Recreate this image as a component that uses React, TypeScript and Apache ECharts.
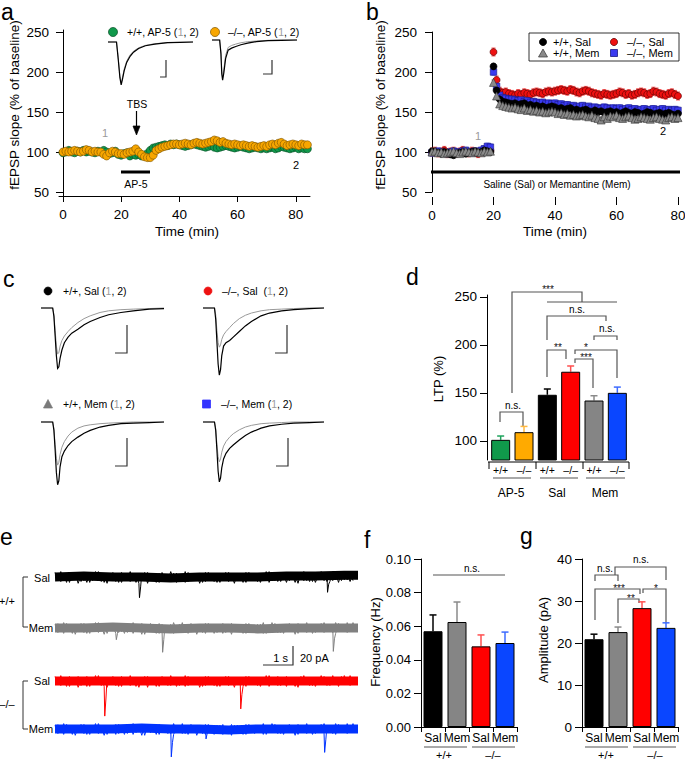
import React, { useEffect, useRef } from "react";
import * as echarts from "echarts";

const FONT = "'Liberation Sans', Arial, Helvetica, sans-serif";

// ---------------- Panel a : AP-5 time course ----------------
const timeA: number[] = Array.from({ length: 85 }, (_, i) => i);
const aWTAP5 = [99,100,102,100,99,101,100,102,100,101, 100,99,101,100,102,100,98,99,101,97, 96,98,99,95,97,96,97,95,96,98, 102,105,106,107,108,109,108,110,109,110, 109,108,107,108,109,110,109,108,107,106, 107,108,106,105,106,107,108,107,106,105, 106,107,106,105,104,105,106,105,104,105, 104,105,106,104,105,107,106,105,104,105, 106,104,105,104,104];
const aKOAP5 = [100,101,100,101,102,101,100,101,103,102, 100,101,100,100,97,95,99,101,100,98, 98,97,99,100,101,104,100,97,94,93, 93,96,102,104,106,107,108,109,110,110, 109,110,111,110,109,111,112,111,110,111, 112,113,115,114,112,113,111,110,109,110, 109,108,109,108,107,108,107,106,107,108, 107,109,110,109,111,112,110,108,109,110, 109,108,110,109,109];
const aTicks = [0, 20, 40, 60, 80];
const slopeTicks = [50, 100, 150, 200, 250];

// ---------------- Panel b : Saline / Memantine ----------------
const timeB: number[] = Array.from({ length: 81 }, (_, i) => i);
const bWTSal = [101,100,99,98,100,99,97,96,98,99,100,98,99,100,101,99,100,102,101,100,
207,177,166,163,162,161,160,161,159,160,161,158,159,157,158,156,157,155,156,157,
156,154,155,153,154,155,152,153,151,152,153,151,150,152,150,151,149,150,151,149,
150,148,149,151,149,148,150,149,147,148,150,149,147,148,149,147,148,149,147,146,148];
const bKOSal = [100,101,99,100,102,98,100,101,99,100,102,100,99,101,100,98,100,101,103,102,
225,190,176,174,175,173,172,171,173,172,174,173,172,174,175,174,173,175,176,175,
176,177,178,177,176,178,177,175,174,176,177,176,174,173,172,171,173,172,171,172,
173,175,174,172,173,171,172,174,175,174,172,173,176,175,173,172,171,173,174,172,170];
const bWTMem = [100,101,99,100,98,99,100,101,99,98,100,101,100,99,101,100,99,101,100,101,
187,170,160,158,157,156,155,156,154,153,155,152,153,151,152,150,151,149,150,151,
150,148,149,147,148,146,147,145,146,147,145,144,146,143,142,140,144,142,145,144,
146,143,142,144,145,143,141,142,144,143,142,141,143,144,142,141,140,143,144,142,143];
const bKOMem = [99,100,101,100,99,98,100,101,100,99,101,102,100,99,101,100,102,104,107,106,
200,182,171,168,167,166,166,165,164,165,163,164,162,163,162,161,162,160,161,160,
161,159,160,158,159,157,158,156,157,158,156,157,155,156,155,154,156,155,154,155,
154,155,153,154,155,153,154,152,153,154,152,153,154,152,153,154,152,153,152,153,152];
const semWTSal = 3;
const semKOSal = 5;
const semWTMem = 3;
const semKOMem = 4;

// ---------------- Panel c : fEPSP traces (mV, 1 = before, 2 = after) ----------------
const tTrace = [0, 9.5, 10.5, 11.5, 12.5, 13.5, 14.5, 15.5, 17, 19, 22, 25, 30, 35, 40, 48, 55, 65, 75, 88, 100];
const cWTSal1 = [0,0,-0.12,-0.4,-0.68,-0.82,-0.8,-0.68,-0.58,-0.5,-0.42,-0.35,-0.26,-0.19,-0.14,-0.08,-0.05,-0.03,-0.02,-0.01,0];
const cWTSal2 = [0,0,-0.15,-0.5,-0.85,-1.08,-1.05,-0.9,-0.75,-0.62,-0.52,-0.45,-0.38,-0.3,-0.24,-0.17,-0.12,-0.08,-0.05,-0.02,-0.01];
const cKOSal1 = [0,0,-0.12,-0.4,-0.62,-0.7,-0.66,-0.56,-0.48,-0.42,-0.35,-0.28,-0.19,-0.13,-0.09,-0.05,-0.03,-0.02,-0.01,0,0];
const cKOSal2 = [0,0,-0.2,-0.6,-1.0,-1.2,-1.1,-0.85,-0.68,-0.62,-0.58,-0.52,-0.42,-0.32,-0.24,-0.14,-0.09,-0.05,-0.03,-0.01,0];
const cWTMem1 = [0,0,-0.12,-0.4,-0.65,-0.77,-0.72,-0.58,-0.45,-0.35,-0.25,-0.18,-0.11,-0.07,-0.05,-0.03,-0.02,-0.01,0,0,0];
const cWTMem2 = [0,0,-0.15,-0.5,-0.9,-1.12,-1.05,-0.8,-0.62,-0.52,-0.42,-0.35,-0.27,-0.2,-0.15,-0.09,-0.06,-0.03,-0.02,-0.01,0];
const cKOMem1 = [0,0,-0.12,-0.4,-0.62,-0.71,-0.66,-0.54,-0.43,-0.35,-0.27,-0.21,-0.14,-0.09,-0.06,-0.03,-0.02,-0.01,0,0,0];
const cKOMem2 = [0,0,-0.15,-0.5,-0.88,-1.07,-1.0,-0.82,-0.66,-0.56,-0.47,-0.41,-0.32,-0.24,-0.18,-0.11,-0.07,-0.04,-0.02,-0.01,0];

// inset traces in panel a
const tInsetWT = [0, 10, 12, 14, 15.5, 17, 19, 22, 26, 30, 36, 44, 55, 70, 85, 100];
const insWT1 = [0,0,-0.45,-1.0,-1.2,-1.05,-0.8,-0.56,-0.38,-0.27,-0.17,-0.1,-0.05,-0.02,-0.01,0];
const insWT2 = [0,0,-0.5,-1.05,-1.26,-1.1,-0.85,-0.6,-0.42,-0.3,-0.19,-0.11,-0.06,-0.02,-0.01,0];
const tInsetKO = [0, 9, 10.5, 11.5, 12.5, 14, 16, 19, 23, 28, 34, 42, 52, 66, 82, 100];
const insKO1 = [0,0,-0.35,-0.9,-1.1,-0.85,-0.45,-0.22,-0.16,-0.12,-0.08,-0.05,-0.03,-0.01,0,0];
const insKO2 = [0,0,-0.4,-1.0,-1.18,-0.95,-0.55,-0.3,-0.24,-0.19,-0.14,-0.09,-0.05,-0.02,-0.01,0];

// ---------------- Panel d : LTP bars ----------------
const dCats = ["AP5-WT", "AP5-KO", "Sal-WT", "Sal-KO", "Mem-WT", "Mem-KO"];
const dTickLabels = ["+/+", "–/–", "+/+", "–/–", "+/+", "–/–"];
const dGroups = ["AP-5", "Sal", "Mem"];
const dMeans = [101, 109, 148, 172, 142, 150];
const dErrTop = [105, 115, 154, 178, 147, 156];
const dTicks = [100, 150, 200, 250];

// ---------------- Panel e : sEPSC traces (pA) ----------------
const noiseA = [5,-4,6,-3,3,-6,4,-2,5,-5,2,-6,3,-4,6,-3,4,-6,3,-2,
5,-5,2,-6,4,-3,6,-4,3,-7,4,-3,5,-2,3,-6,4,-4,2,-5,
6,-3,4,-5,3,-6,5,-2,4,-4,3,-6,5,-3,2,-5,4,-6,3,-3,
5,-4,4,-2,3,-6,5,-4,2,-3,4,-6,3,-4,6,-2,4,-5,3,-3,
5,-4,2,-6,4,-3,6,-4,3,-5,4,-2,6,-4,3,-5,6,-3,4,-4,
6,-3,6,-4];
const noiseB = [4,-5,3,-6,5,-3,4,-7,2,-4,5,-6,3,-3,6,-5,2,-7,4,-3,
3,-6,5,-4,2,-5,4,-6,3,-2,5,-7,4,-4,2,-6,5,-3,3,-5,
4,-6,2,-4,6,-5,3,-3,4,-7,2,-5,5,-4,3,-6,4,-2,5,-5,
3,-7,4,-3,2,-6,5,-4,3,-5,4,-3,6,-6,2,-4,5,-5,3,-6,
4,-3,2,-7,5,-4,3,-5,4,-6,2,-3,5,-5,3,-4,4,-6,5,-3,
3,-5,4,-4];
// slow baseline (one value per second)
const tSec = [0, 1, 2, 3, 4, 5, 6, 7, 8, 9, 10, 11];
const baseWTSal = [0, 1, 0, 0, -1, 0, 0, 0, 1, 1, 2, 2];
const baseWTMem = [0, 0, 1, 0, -1, 0, 0, -1, 0, 0, 0, 0];
const baseKOSal = [0, 0, 0, 0, 0, 0, 0, 0, 0, 0, 0, 0];
const baseKOMem = [0, 0, 0, 1, 0, 0, -1, 0, 0, 0, 0, 0];
const evWTSal = [[2.92, -23], [2.96, -11], [9.42, -17], [9.46, -8]];
const evWTMem = [[2.12, -13], [2.16, -6], [3.72, -27], [3.76, -13], [9.62, -26], [9.66, -12]];
const evKOSal = [[1.72, -39], [1.76, -20], [6.42, -31], [6.46, -15]];
const evKOMem = [[4.02, -31], [4.06, -15], [5.22, -11], [5.26, -5], [9.32, -26], [9.36, -12]];

// ---------------- Panels f, g : sEPSC frequency and amplitude ----------------
const fgCats = ["WT-Sal", "WT-Mem", "KO-Sal", "KO-Mem"];
const fgTickLabels = ["Sal", "Mem", "Sal", "Mem"];
const fgGroups = ["+/+", "–/–"];
const fMeans = [0.057, 0.0625, 0.048, 0.05];
const fErrTop = [0.0667, 0.0744, 0.0548, 0.0565];
const gMeans = [20.9, 22.6, 28.3, 23.6];
const gErrTop = [22.1, 23.8, 29.8, 24.8];

const dColors = ["#10994b", "#ffaa00", "#000000", "#ff0000", "#858585", "#0a46ff"];
const dErrColors = ["#1ea35c", "#ffb840", "#000000", "#ff5050", "#8a8a8a", "#3d6bff"];
const fgColors = ["#000000", "#858585", "#ff0000", "#0a46ff"];
const fgErrColors = ["#000000", "#8a8a8a", "#ff5050", "#3d6bff"];

const pairs = (xs: number[], ys: number[]) => xs.map((x, i) => [x, ys[i]]);
const zig = (noise: number[], shift: number, ev: number[][] = []) =>
  noise.map((v, i) => [i * 0.1 + shift, v]).concat(ev).sort((a, b) => a[0] - b[0]);

function buildOption() {
  const g: any[] = [];
  const txt = (x: number, y: number, text: string, fs = 11, o: any = {}) =>
    g.push({
      type: "text", x, y, rotation: o.rot || 0, silent: true,
      style: {
        text, fontFamily: FONT, fontSize: fs, fill: o.fill || "#000",
        align: o.align || "center", textAlign: o.align || "center",
        verticalAlign: "middle", textVerticalAlign: "middle",
        rich: o.rich,
      },
    });
  const pl = (pts: number[][], color = "#555", w = 1.2) =>
    g.push({ type: "polyline", silent: true, shape: { points: pts }, style: { stroke: color, lineWidth: w, fill: null } });
  const rc = (x: number, y: number, w: number, h: number, fill: string, stroke?: string) =>
    g.push({ type: "rect", silent: true, shape: { x, y, width: w, height: h }, style: { fill, stroke: stroke || null, lineWidth: 0.8 } });
  const cir = (cx: number, cy: number, r: number, fill: string, stroke: string) =>
    g.push({ type: "circle", silent: true, shape: { cx, cy, r }, style: { fill, stroke, lineWidth: 0.7 } });
  const pg = (pts: number[][], fill: string, stroke: string) =>
    g.push({ type: "polygon", silent: true, shape: { points: pts }, style: { fill, stroke, lineWidth: 0.7 } });
  const rich = (fs: number) => ({ g: { fill: "#9a9a9a", fontSize: fs, fontFamily: FONT } });

  // panel letters
  txt(1, 12, "a", 23, { align: "left" });
  txt(366, 12, "b", 23, { align: "left" });
  txt(3, 279, "c", 23, { align: "left" });
  txt(406, 277, "d", 23, { align: "left" });
  txt(0, 537, "e", 23, { align: "left" });
  txt(364, 540, "f", 23, { align: "left" });
  txt(520, 536, "g", 23, { align: "left" });

  // ---- a ----
  txt(14, 105, "fEPSP slope (% of baseline)", 13.5, { rot: Math.PI / 2 });
  txt(187, 231, "Time (min)", 13.5);
  cir(113, 32, 4.5, "#10994b", "#0a4d26");
  txt(127, 32, "+/+, AP-5 ({g|1}, 2)", 10.5, { align: "left", rich: rich(10.5) });
  cir(215, 32, 4.5, "#f7a600", "#7a5200");
  txt(228, 32, "–/–, AP-5 ({g|1}, 2)", 10.5, { align: "left", rich: rich(10.5) });
  txt(137, 104, "TBS", 10.5);
  pl([[136.5, 111], [136.5, 127]], "#000", 1.2);
  pg([[133, 126], [140, 126], [136.5, 135]], "#000", "#000");
  rc(121, 170.5, 29, 3, "#000");
  txt(136, 184, "AP-5", 10.5);
  txt(105, 133, "1", 11, { fill: "#9a9a9a" });
  txt(296, 165, "2", 11);
  pl([[160, 77], [166, 77], [166, 60]], "#333", 1.2);
  pl([[263, 74], [272, 74], [272, 60]], "#333", 1.2);

  // ---- b ----
  txt(380, 105, "fEPSP slope (% of baseline)", 13.5, { rot: Math.PI / 2 });
  txt(555, 231, "Time (min)", 13.5);
  rc(529, 33, 150, 28, "none", "#000");
  cir(543, 42, 3.6, "#000", "#000");
  txt(553, 42, "+/+, Sal", 11, { align: "left" });
  cir(614, 42, 3.6, "#ee1111", "#550000");
  txt(627, 42, "–/–, Sal", 11, { align: "left" });
  pg([[543, 49], [547.5, 57], [538.5, 57]], "#8a8a8a", "#333");
  txt(553, 53, "+/+, Mem", 11, { align: "left" });
  rc(610.5, 49.5, 7, 7, "#3a3af0", "#1a1a80");
  txt(627, 53, "–/–, Mem", 11, { align: "left" });
  rc(431, 170.5, 249, 3, "#000");
  txt(557, 184, "Saline (Sal) or Memantine (Mem)", 10);
  txt(478, 136, "1", 11, { fill: "#9a9a9a" });
  txt(663, 131, "2", 11);

  // ---- c ----
  cir(48, 291, 4, "#000", "#000");
  txt(63, 291, "+/+, Sal ({g|1}, 2)", 10.5, { align: "left", rich: rich(10.5) });
  cir(208, 291, 4, "#ee1111", "#ee1111");
  txt(222, 291, "–/–, Sal  ({g|1}, 2)", 10.5, { align: "left", rich: rich(10.5) });
  pg([[48, 399.5], [52.5, 408], [43.5, 408]], "#7a7a7a", "#7a7a7a");
  txt(63, 404, "+/+, Mem ({g|1}, 2)", 10.5, { align: "left", rich: rich(10.5) });
  rc(202.5, 400, 8, 8, "#3333ff", "#3333ff");
  txt(221, 404, "–/–, Mem ({g|1}, 2)", 10.5, { align: "left", rich: rich(10.5) });
  pl([[115, 353], [127, 353], [127, 325]], "#333", 1.2);
  pl([[275, 353], [287, 353], [287, 325]], "#333", 1.2);
  pl([[115, 466], [127, 466], [127, 438]], "#333", 1.2);
  pl([[276, 466], [288, 466], [288, 438]], "#333", 1.2);

  // ---- d ----
  txt(438, 379, "LTP (%)", 13, { rot: Math.PI / 2 });
  pl([[488, 462], [629, 462]], "#000", 1);
  [489, 536, 583, 629].forEach((x) => pl([[x, 462], [x, 469]], "#000", 1));
  pl([[493, 478], [531, 478]]);
  pl([[540, 478], [578, 478]]);
  pl([[586, 478], [625, 478]]);
  txt(511, 493, dGroups[0], 12);
  txt(557, 493, dGroups[1], 12);
  txt(605, 493, dGroups[2], 12);
  pl([[512, 393], [512, 292], [582, 292], [582, 302]]);
  pl([[547, 302], [617, 302]]);
  pl([[547, 340], [547, 316], [606, 316], [606, 321]]);
  pl([[594, 340], [594, 336], [617, 336], [617, 340]]);
  pl([[547, 377], [547, 350], [566, 350], [566, 359]]);
  pl([[575, 354], [575, 350], [617, 350], [617, 378]]);
  pl([[575, 363], [575, 359], [593, 359], [593, 388]]);
  pl([[500, 422], [500, 412], [523, 412], [523, 427]]);
  txt(548, 289, "***", 10, { fill: "#111" });
  txt(577, 309.5, "n.s.", 10);
  txt(607, 328, "n.s.", 10);
  txt(558, 347.5, "**", 10, { fill: "#111" });
  txt(586, 347.5, "*", 10, { fill: "#111" });
  txt(586, 357, "***", 10, { fill: "#111" });
  txt(513, 405, "n.s.", 10);

  // ---- e ----
  pl([[28, 577], [23, 577], [23, 627], [28, 627]], "#333", 1);
  pl([[28, 681], [23, 681], [23, 729], [28, 729]], "#333", 1);
  txt(42, 578, "Sal", 11);
  txt(41, 628, "Mem", 11);
  txt(7, 601, "+/+", 11);
  txt(42, 681, "Sal", 11);
  txt(41, 729, "Mem", 11);
  txt(7, 704, "–/–", 11);
  pl([[263, 665], [293, 665], [293, 646]], "#333", 1.2);
  txt(288, 657.5, "1 s", 11, { align: "right" });
  txt(300, 657.5, "20 pA", 11, { align: "left" });

  // ---- f ----
  txt(375, 642, "Frequency (Hz)", 13, { rot: Math.PI / 2 });
  pl([[424, 747], [467, 747]]);
  pl([[472, 747], [515, 747]]);
  txt(444, 754.5, fgGroups[0], 11);
  txt(493, 754.5, fgGroups[1], 11);
  pl([[433, 575], [505, 575]]);
  txt(472, 568.5, "n.s.", 10);

  // ---- g ----
  txt(543, 640, "Amplitude (pA)", 13, { rot: Math.PI / 2 });
  pl([[585, 747], [628, 747]]);
  pl([[633, 747], [676, 747]]);
  txt(606, 754.5, fgGroups[0], 11);
  txt(655, 754.5, fgGroups[1], 11);
  pl([[595, 581], [595, 575], [618, 575], [618, 581]]);
  pl([[615, 575], [615, 567], [666, 567], [666, 580]]);
  pl([[595, 620], [595, 589], [640, 589], [640, 594]]);
  pl([[618, 623], [618, 599], [639, 599], [639, 603]]);
  pl([[643, 593], [643, 589], [666, 589], [666, 623]]);
  txt(605, 568.5, "n.s.", 10);
  txt(641, 559.5, "n.s.", 10);
  txt(619, 588.5, "***", 10, { fill: "#111" });
  txt(631, 598, "**", 10, { fill: "#111" });
  txt(656, 588.5, "*", 10, { fill: "#111" });

  const NB = { outerBoundsMode: "none", containLabel: false };
  const grid = [
    { left: 59, top: 30, width: 251, height: 166, ...NB },
    { left: 427, top: 32, width: 253, height: 160, ...NB },
    { left: 489, top: 295, width: 140, height: 165, ...NB },
    { left: 421, top: 559, width: 96, height: 168, ...NB },
    { left: 582, top: 559, width: 96, height: 168, ...NB },
    { left: 108, top: 38.6, width: 85, height: 51, ...NB },
    { left: 212, top: 36.6, width: 85, height: 51, ...NB },
    { left: 41, top: 302.4, width: 123, height: 72.8, ...NB },
    { left: 203, top: 302.4, width: 121, height: 72.8, ...NB },
    { left: 41, top: 416.4, width: 123, height: 72.8, ...NB },
    { left: 203, top: 416.4, width: 121, height: 72.8, ...NB },
    { left: 55, top: 568, width: 298, height: 49.5, ...NB },
    { left: 55, top: 619, width: 298, height: 49.5, ...NB },
    { left: 55, top: 672, width: 298, height: 49.5, ...NB },
    { left: 55, top: 720, width: 298, height: 49.5, ...NB },
  ];

  const axLine = { show: true, lineStyle: { color: "#000", width: 1 } };
  const lab = (fs: number, margin: number, extra: any = {}) => ({ fontFamily: FONT, fontSize: fs, color: "#000", margin, ...extra });
  const hid = (i: number, min: number, max: number) => ({ gridIndex: i, type: "value", min, max, show: false });

  const xAxis: any[] = [
    { gridIndex: 0, type: "value", min: -1.37, max: 84.88, axisLine: axLine, splitLine: { show: false },
      axisTick: { show: true, length: 6, customValues: aTicks, lineStyle: { color: "#000" } },
      axisLabel: lab(13.5, 11.5, { customValues: aTicks }) },
    { gridIndex: 1, type: "value", min: -1.63, max: 80.65, offset: 5, axisLine: { show: false }, splitLine: { show: false },
      axisTick: { show: true, length: 8, customValues: aTicks, lineStyle: { color: "#000" } },
      axisLabel: lab(13.5, 11, { customValues: aTicks }) },
    { gridIndex: 2, type: "category", data: dCats, axisLine: { show: false }, axisTick: { show: false },
      axisLabel: lab(10.5, 4, { interval: 0, formatter: (_v: string, i: number) => dTickLabels[i] }) },
    { gridIndex: 3, type: "category", data: fgCats, axisLine: axLine, axisTick: { show: true, length: 5, lineStyle: { color: "#000" } },
      axisLabel: lab(12, 4.5, { interval: 0, formatter: (_v: string, i: number) => fgTickLabels[i] }) },
    { gridIndex: 4, type: "category", data: fgCats, axisLine: axLine, axisTick: { show: true, length: 5, lineStyle: { color: "#000" } },
      axisLabel: lab(12, 4.5, { interval: 0, formatter: (_v: string, i: number) => fgTickLabels[i] }) },
    hid(5, 0, 100), hid(6, 0, 100),
    hid(7, 0, 100), hid(8, 0, 100), hid(9, 0, 100), hid(10, 0, 100),
    hid(11, 0, 10.3), hid(12, 0, 10.3), hid(13, 0, 10.3), hid(14, 0, 10.3),
  ];
  const yv = (i: number, min: number, max: number, ticks: number[] | null, interval?: number) => ({
    gridIndex: i, type: "value", min, max, interval, axisLine: axLine, splitLine: { show: false },
    axisTick: { show: true, length: 7, lineStyle: { color: "#000" }, ...(ticks ? { customValues: ticks } : {}) },
    axisLabel: lab(13.5, 10, { ...(ticks ? { customValues: ticks } : {}) }),
  });
  const yAxis: any[] = [
    yv(0, 45, 252.5, slopeTicks),
    yv(1, 50, 250, slopeTicks),
    { ...yv(2, 80, 252, dTicks), offset: 2 },
    { ...yv(3, 0, 0.1, null, 0.02), axisLabel: lab(13, 10, { formatter: (v: number) => v.toFixed(2) }) },
    yv(4, 0, 40, null, 10),
    hid(5, -1.4, 0.1), hid(6, -1.4, 0.1),
    hid(7, -1.2, 0.1), hid(8, -1.2, 0.1), hid(9, -1.2, 0.1), hid(10, -1.2, 0.1),
    hid(11, -45, 10), hid(12, -45, 10), hid(13, -45, 10), hid(14, -45, 10),
  ];

  const scat = (idx: number, xs: number[], ys: number[], symbol: string, size: number, color: string, border: string) => ({
    type: "scatter", xAxisIndex: idx, yAxisIndex: idx, data: pairs(xs, ys), symbol, symbolSize: size, silent: true,
    itemStyle: { color, borderColor: border, borderWidth: 0.6, opacity: 1 },
  });
  const errB = (xs: number[], ys: number[], sem: number, color: string) => ({
    type: "custom", xAxisIndex: 1, yAxisIndex: 1, silent: true,
    data: xs.map((x, i) => [x, ys[i] - sem, ys[i] + sem]),
    renderItem: (_p: any, api: any) => {
      const a = api.coord([api.value(0), api.value(2)]);
      const b = api.coord([api.value(0), api.value(1)]);
      const st = { stroke: color, lineWidth: 0.9 };
      return { type: "group", children: [
        { type: "line", shape: { x1: a[0], y1: a[1], x2: b[0], y2: b[1] }, style: st },
        { type: "line", shape: { x1: a[0] - 2, y1: a[1], x2: a[0] + 2, y2: a[1] }, style: st },
        { type: "line", shape: { x1: b[0] - 2, y1: b[1], x2: b[0] + 2, y2: b[1] }, style: st },
      ] };
    },
  });
  const line = (idx: number, data: number[][], color: string, w: number) => ({
    type: "line", xAxisIndex: idx, yAxisIndex: idx, data, showSymbol: false, symbol: "none", silent: true,
    lineStyle: { color, width: w, join: "miter" }, itemStyle: { color },
  });
  const bars = (idx: number, means: number[], colors: string[]) => ({
    type: "bar", xAxisIndex: idx, yAxisIndex: idx, barWidth: 19, silent: true, clip: true,
    data: means.map((v, i) => ({ value: v, itemStyle: { color: colors[i] } })),
    itemStyle: { borderColor: "#000", borderWidth: 1 },
  });
  const barErr = (idx: number, means: number[], tops: number[], colors: string[]) => ({
    type: "custom", xAxisIndex: idx, yAxisIndex: idx, silent: true, z: 1,
    data: means.map((v, i) => [i, v, tops[i]]),
    renderItem: (p: any, api: any) => {
      const a = api.coord([api.value(0), api.value(1)]);
      const b = api.coord([api.value(0), api.value(2)]);
      const st = { stroke: colors[p.dataIndex], lineWidth: 1.5 };
      return { type: "group", children: [
        { type: "line", shape: { x1: a[0], y1: a[1], x2: b[0], y2: b[1] }, style: st },
        { type: "line", shape: { x1: b[0] - 3.5, y1: b[1], x2: b[0] + 3.5, y2: b[1] }, style: st },
      ] };
    },
  });
  const trace = (idx: number, base: number[], p: number[], q: number[], ev: number[][], color: string) => [
    line(idx, pairs(tSec, base), color, 9),
    line(idx, zig(q, 0.1), color, 1),
    line(idx, zig(p, 0, ev), color, 1),
  ];

  const series: any[] = [
    // a
    scat(0, timeA, aWTAP5, "circle", 8, "#10994b", "#0a4d26"),
    scat(0, timeA, aKOAP5, "circle", 8, "#f7a600", "#7a5200"),
    line(5, pairs(tInsetWT, insWT1), "#999", 1),
    line(5, pairs(tInsetWT, insWT2), "#000", 1.2),
    line(6, pairs(tInsetKO, insKO1), "#999", 1),
    line(6, pairs(tInsetKO, insKO2), "#000", 1.2),
    // b
    errB(timeB, bKOSal, semKOSal, "#ff4a4a"),
    scat(1, timeB, bKOSal, "circle", 7, "#ee1111", "#550000"),
    errB(timeB, bKOMem, semKOMem, "#5a6aff"),
    scat(1, timeB, bKOMem, "rect", 6.5, "#3a3af0", "#1a1a80"),
    errB(timeB, bWTSal, semWTSal, "#222"),
    scat(1, timeB, bWTSal, "circle", 7, "#000", "#000"),
    errB(timeB, bWTMem, semWTMem, "#777"),
    scat(1, timeB, bWTMem, "triangle", 8, "#8a8a8a", "#333"),
    // c
    line(7, pairs(tTrace, cWTSal1), "#999", 1),
    line(7, pairs(tTrace, cWTSal2), "#000", 1.2),
    line(8, pairs(tTrace, cKOSal1), "#999", 1),
    line(8, pairs(tTrace, cKOSal2), "#000", 1.2),
    line(9, pairs(tTrace, cWTMem1), "#999", 1),
    line(9, pairs(tTrace, cWTMem2), "#000", 1.2),
    line(10, pairs(tTrace, cKOMem1), "#999", 1),
    line(10, pairs(tTrace, cKOMem2), "#000", 1.2),
    // d
    barErr(2, dMeans, dErrTop, dErrColors),
    bars(2, dMeans, dColors),
    // e
    ...trace(11, baseWTSal, noiseA, noiseB, evWTSal, "#000000"),
    ...trace(12, baseWTMem, noiseB, noiseA, evWTMem, "#808080"),
    ...trace(13, baseKOSal, noiseA, noiseB, evKOSal, "#ff0000"),
    ...trace(14, baseKOMem, noiseB, noiseA, evKOMem, "#0033ff"),
    // f, g
    barErr(3, fMeans, fErrTop, fgErrColors),
    bars(3, fMeans, fgColors),
    barErr(4, gMeans, gErrTop, fgErrColors),
    bars(4, gMeans, fgColors),
  ];

  return {
    animation: false,
    backgroundColor: "#fff",
    textStyle: { fontFamily: FONT },
    grid, xAxis, yAxis, series,
    graphic: { elements: g },
  };
}

export default function App() {
  const ref = useRef<HTMLDivElement>(null);
  useEffect(() => {
    if (!ref.current) return;
    const chart = echarts.init(ref.current, undefined, { renderer: "svg" });
    chart.setOption(buildOption() as any);
    return () => chart.dispose();
  }, []);
  return (
    <div
      ref={ref}
      style={{ position: "absolute", left: 0, top: 0, width: 685, height: 761, background: "#fff" }}
    />
  );
}
